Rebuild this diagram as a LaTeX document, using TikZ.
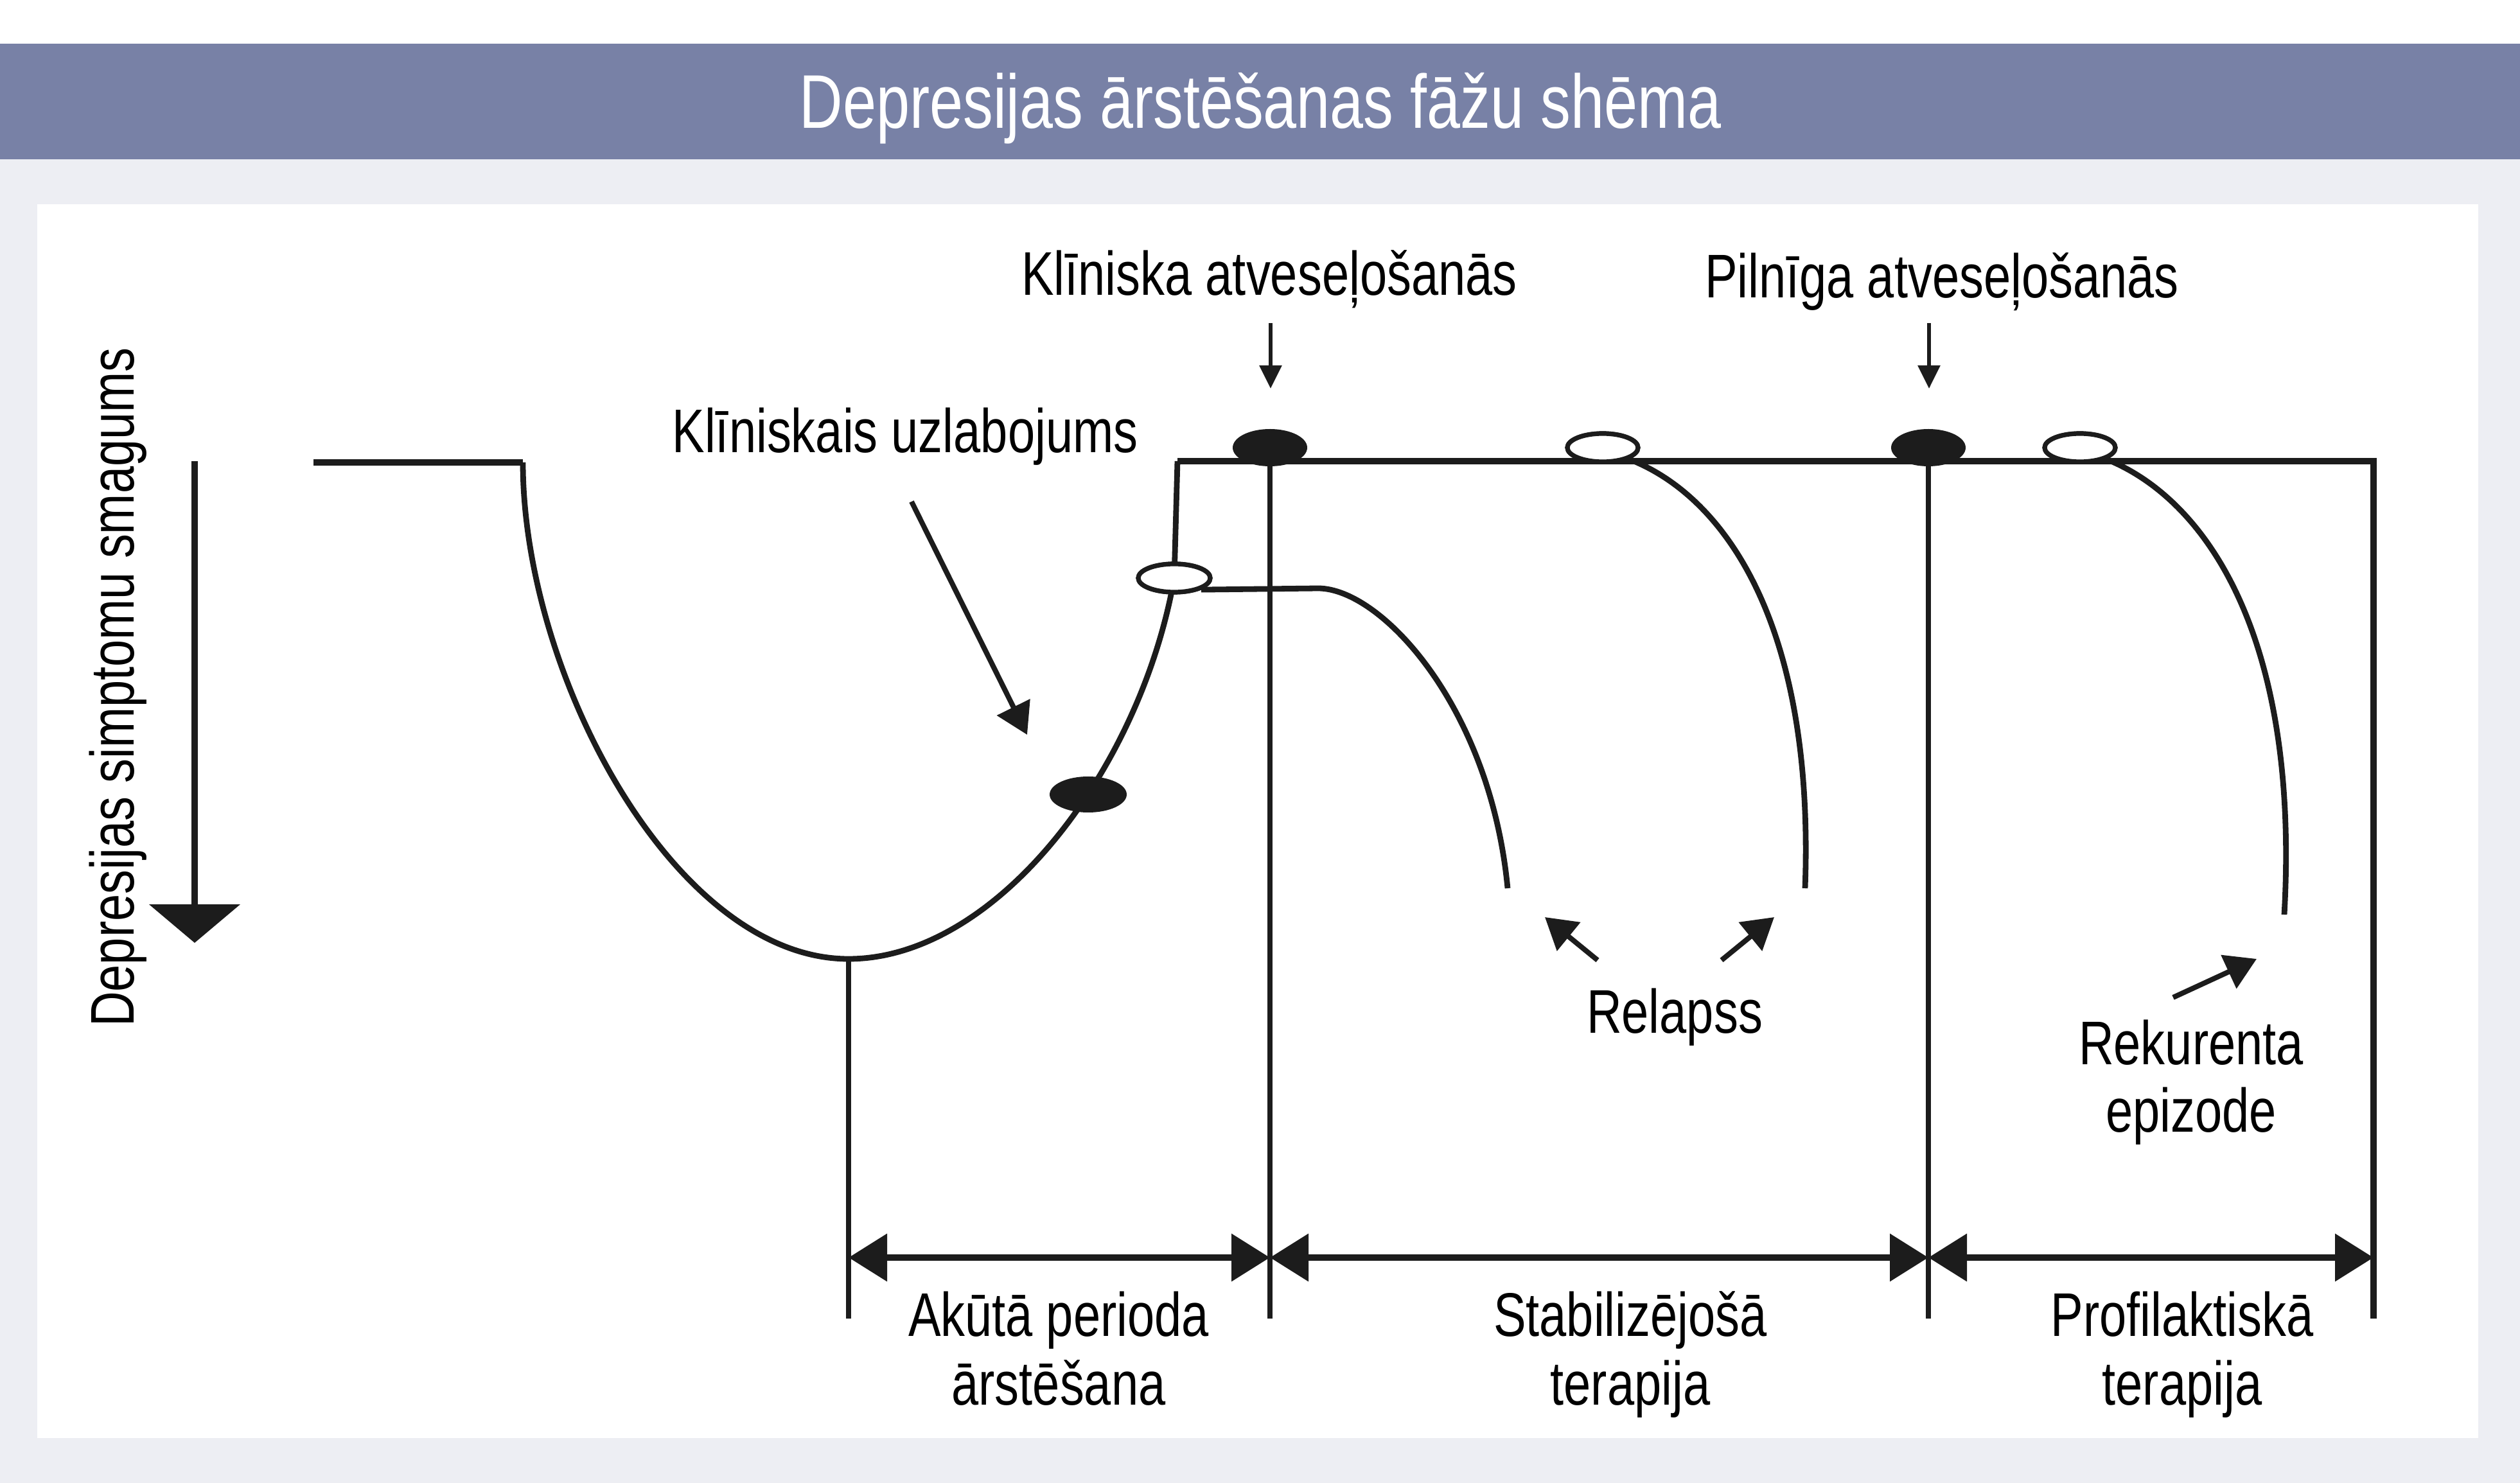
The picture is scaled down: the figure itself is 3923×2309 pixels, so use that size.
\documentclass[tikz,border=0pt]{standalone}
\usepackage{fontspec}
\setmainfont{Liberation Sans}[FakeStretch=0.79]
\usetikzlibrary{arrows.meta,shapes.geometric}
\definecolor{banner}{RGB}{120,129,166}
\definecolor{bgray}{RGB}{237,238,243}
\definecolor{ink}{RGB}{28,28,28}
\begin{document}
\begin{tikzpicture}[x=0.25pt,y=-0.25pt,
  lbl/.style={font=\fontsize{24}{28}\selectfont, anchor=base, inner sep=0pt, text=black},
  curve/.style={draw=ink, line width=2.2pt},
  heavy/.style={draw=ink, line width=2.7pt},
  vline/.style={draw=ink, line width=2pt},
  fdot/.style={ellipse, fill=ink, draw=none, inner sep=0pt, minimum width=29pt, minimum height=14.5pt},
  odot/.style={ellipse, fill=white, draw=ink, line width=1.8pt, inner sep=0pt, minimum width=27.5pt, minimum height=11pt},
  smallarrow/.style={draw=ink, line width=1.4pt, -{Triangle[length=9pt,width=8.5pt]}},
  ptr/.style={draw=ink, line width=2pt, -{Triangle[length=12pt,width=14pt]}},
  span/.style={draw=ink, line width=2.7pt, {Triangle[length=15pt,width=18pt]}-{Triangle[length=15pt,width=18pt]}},
  axisarrow/.style={draw=ink, line width=2.7pt, -{Triangle[length=15pt,width=35pt]}}
]
\useasboundingbox (0,0) rectangle (3923,2309);
% background
\fill[white] (0,0) rectangle (3923,68);
\fill[banner] (0,68) rectangle (3923,248);
\fill[bgray] (0,248) rectangle (3923,2309);
\fill[white] (58,318) rectangle (3858,2239);
\node[anchor=base, inner sep=0pt, text=white, font=\fontsize{29.6}{34}\selectfont] (title) at (1962,200) {Depresijas ārstēšanas fāžu shēma};

% key coordinates
\coordinate (L0) at (488,720);
\coordinate (L1) at (814,720);
\coordinate (bot) at (1321,1493);
\coordinate (corner) at (1833,718);
\coordinate (topR) at (3695,718);
\coordinate (Rbot) at (3695,2053);
\coordinate (botB) at (1321,2053);
\coordinate (v1t) at (1977,718);
\coordinate (v1b) at (1977,2053);
\coordinate (v2t) at (3002,718);
\coordinate (v2b) at (3002,2053);
\coordinate (s0) at (1321,1958);
\coordinate (s1) at (1977,1958);
\coordinate (s2) at (3002,1958);
\coordinate (s3) at (3695,1958);
\coordinate (oclc) at (1828,900);

% vertical lines
\draw[vline] (bot) -- (botB);
\draw[vline] (v1t) -- (v1b);
\draw[vline] (v2t) -- (v2b);

% main course
\draw[heavy] (L0) -- (L1);
\draw[curve] (L1) .. controls (814,1050) and (1050,1493) .. (bot)
  .. controls (1550,1493) and (1775,1200) .. (oclc) -- (corner);
\draw[heavy] (corner) -- (topR) -- (Rbot);

% ellipses
\node[fdot, minimum width=30pt, minimum height=14pt] (imp) at (1694,1237) {};
\node[odot, minimum width=28pt] (ocl) at (oclc) {};
\node[fdot] (f1) at (1977,697) {};
\node[fdot] (f2) at (3002,697) {};
\node[odot] (o2) at (2495,697) {};
\node[odot] (o4) at (3238,697) {};

% relapse / recurrence curves
\coordinate (h1) at (2052,916);
\coordinate (e1) at (2347,1383);
\coordinate (e2) at (2810,1383);
\coordinate (e3) at (3556,1424);
\draw[curve] (ocl.south east) -- (h1) .. controls (2150,916) and (2320,1100) .. (e1);
\draw[curve] (o2.south east) .. controls (2690,775) and (2825,980) .. (e2);
\draw[curve] (o4.south east) .. controls (3440,780) and (3580,1000) .. (e3);
% redraw ellipses over curve starts
\node[odot] at (o2) {};
\node[odot] at (o4) {};
\node[odot, minimum width=28pt] at (ocl) {};

% labels and pointers
\node[lbl] (kla) at (1976,460) {Klīniska atveseļošanās};
\node[lbl] (pla) at (3023,464) {Pilnīga atveseļošanās};
\node[lbl] (kul) at (1409,705) {Klīniskais uzlabojums};
\coordinate (a1s) at (1978,503);
\coordinate (a1e) at (1978,605);
\coordinate (a2s) at (3003,503);
\coordinate (a2e) at (3003,605);
\draw[smallarrow] (a1s) -- (a1e);
\draw[smallarrow] (a2s) -- (a2e);
\coordinate (k1s) at (1419,781);
\coordinate (k1e) at (1599,1144);
\draw[ptr] (k1s) -- (k1e);

\node[lbl] (rel) at (2607,1608) {Relapss};
\coordinate (r1s) at (2487,1495);
\coordinate (r1e) at (2405,1428);
\coordinate (r2s) at (2680,1495);
\coordinate (r2e) at (2762,1428);
\draw[ptr] (r1s) -- (r1e);
\draw[ptr] (r2s) -- (r2e);

\node[lbl] (rek1) at (3411,1657) {Rekurenta};
\node[lbl] (rek2) at (3411,1762) {epizode};
\coordinate (q1s) at (3383,1553);
\coordinate (q1e) at (3513,1493);
\draw[ptr] (q1s) -- (q1e);

% phase spans
\draw[span] (s0) -- (s1);
\draw[span] (s1) -- (s2);
\draw[span] (s2) -- (s3);
\node[lbl] (ph1a) at (1648,2080) {Akūtā perioda};
\node[lbl] (ph1b) at (1648,2187) {ārstēšana};
\node[lbl] (ph2a) at (2538,2080) {Stabilizējošā};
\node[lbl] (ph2b) at (2538,2187) {terapija};
\node[lbl] (ph3a) at (3397,2080) {Profilaktiskā};
\node[lbl] (ph3b) at (3397,2187) {terapija};

% y axis
\coordinate (ya) at (303,718);
\coordinate (yb) at (303,1468);
\draw[axisarrow] (ya) -- (yb);
\node[lbl, rotate=90] (ylab) at (208,1070) {Depresijas simptomu smagums};
\end{tikzpicture}
\end{document}
